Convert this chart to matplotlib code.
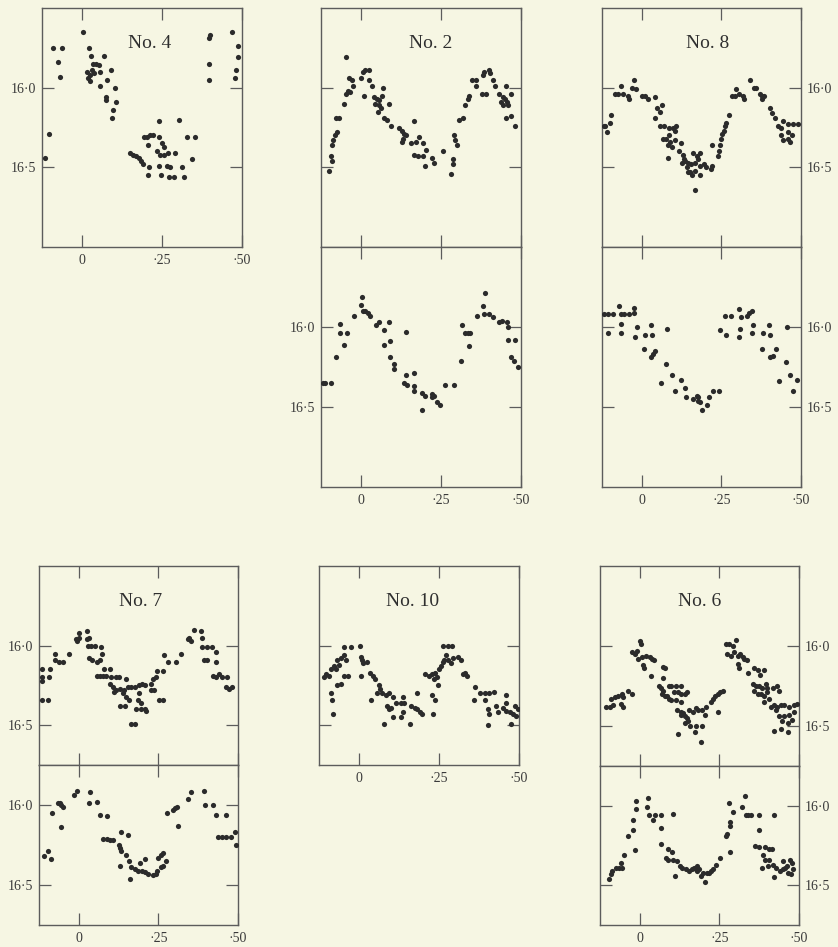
import matplotlib
matplotlib.use('Agg')
import matplotlib.pyplot as plt

# ---------------- data (phase, magnitude) ----------------
x_ticks = [0.0, 0.25, 0.5]
x_tick_labels = ['0', '·25', '·50']
y_ticks = [16.0, 16.5]
y_tick_labels = ['16·0', '16·5']

no4_phase = [-0.117, -0.102, -0.091, -0.063, -0.076, -0.070, 0.002, 0.021, 0.028, 0.070,
             0.034, 0.045, 0.053, 0.016, 0.025, 0.018, 0.032, 0.038, 0.026, 0.057,
             0.091, 0.078, 0.057, 0.102, 0.075, 0.075, 0.106, 0.096, 0.094,
             0.242, 0.302, 0.193, 0.203, 0.213, 0.222, 0.240, 0.328, 0.354, 0.206,
             0.250, 0.255, 0.150, 0.160, 0.170, 0.178, 0.185, 0.190, 0.235, 0.245,
             0.255, 0.270, 0.292, 0.344, 0.208, 0.240, 0.265, 0.276, 0.313, 0.205,
             0.248, 0.271, 0.289, 0.320,
             0.396, 0.401, 0.469, 0.396, 0.396, 0.486, 0.486, 0.482, 0.479]
no4_mag = [16.44, 16.29, 15.75, 15.75, 15.84, 15.93, 15.65, 15.75, 15.80, 15.80,
           15.85, 15.85, 15.86, 15.90, 15.92, 15.94, 15.89, 15.91, 15.96, 15.90,
           15.89, 15.95, 15.99, 16.00, 16.06, 16.08, 16.09, 16.14, 16.19,
           16.21, 16.20, 16.31, 16.31, 16.30, 16.30, 16.31, 16.31, 16.31, 16.36,
           16.35, 16.37, 16.41, 16.42, 16.43, 16.44, 16.46, 16.48, 16.40, 16.42,
           16.42, 16.41, 16.41, 16.45, 16.50, 16.49, 16.49, 16.50, 16.50, 16.55,
           16.55, 16.56, 16.56, 16.56,
           15.69, 15.67, 15.65, 15.85, 15.95, 15.74, 15.81, 15.89, 15.94]

no2a_phase = [-0.101, -0.094, -0.091, -0.091, -0.086, -0.080, -0.076, -0.078, -0.068, -0.052,
              -0.047, -0.042, -0.033, -0.024, -0.036, -0.028, -0.047, 0.000, 0.008, 0.005,
              0.014, 0.024, 0.024, 0.034, 0.068, 0.042, 0.049, 0.057, 0.045, 0.055,
              0.063, 0.052, 0.066, 0.086, 0.073, 0.080, 0.094, 0.120, 0.128, 0.135,
              0.141, 0.132, 0.167, 0.128, 0.156, 0.182, 0.193, 0.172, 0.165, 0.177,
              0.193, 0.203, 0.201, 0.222, 0.229, 0.255, 0.281, 0.286, 0.289, 0.292,
              0.295, 0.299, 0.307, 0.318, 0.326, 0.333, 0.339, 0.347, 0.359, 0.359,
              0.380, 0.385, 0.399, 0.403, 0.414, 0.420, 0.378, 0.391, 0.453, 0.432,
              0.443, 0.451, 0.455, 0.445, 0.458, 0.438, 0.469, 0.453, 0.469, 0.482]
no2a_mag = [16.52, 16.43, 16.46, 16.36, 16.33, 16.30, 16.28, 16.19, 16.19, 16.10,
            16.04, 16.02, 16.03, 15.99, 15.94, 15.95, 15.81, 15.94, 16.05, 15.90,
            15.89, 15.89, 15.95, 15.99, 16.00, 16.06, 16.07, 16.08, 16.10, 16.11,
            16.13, 16.15, 16.05, 16.10, 16.19, 16.20, 16.24, 16.25, 16.27, 16.29,
            16.30, 16.32, 16.21, 16.34, 16.35, 16.31, 16.35, 16.34, 16.42, 16.43,
            16.43, 16.39, 16.49, 16.44, 16.47, 16.40, 16.54, 16.48, 16.45, 16.30,
            16.33, 16.36, 16.20, 16.19, 16.11, 16.07, 16.05, 15.95, 15.95, 15.99,
            15.92, 15.90, 15.89, 15.91, 15.95, 15.99, 16.04, 16.04, 15.99, 16.04,
            16.06, 16.07, 16.09, 16.11, 16.11, 16.09, 16.04, 16.19, 16.18, 16.24]

no2b_phase = [-0.119, -0.112, -0.093, -0.078, -0.067, -0.065, -0.054, -0.043, -0.023, 0.003,
              0.000, 0.005, 0.013, 0.021, 0.029, 0.048, 0.055, 0.071, 0.086, 0.071,
              0.092, 0.092, 0.102, 0.104, 0.142, 0.140, 0.165, 0.135, 0.143, 0.165,
              0.167, 0.191, 0.191, 0.201, 0.222, 0.227, 0.222, 0.237, 0.247, 0.262,
              0.292, 0.311, 0.315, 0.324, 0.334, 0.342, 0.336, 0.361,
              0.380, 0.385, 0.388, 0.401, 0.414, 0.430, 0.441, 0.455, 0.458, 0.458,
              0.482, 0.469, 0.479, 0.490]
no2b_mag = [16.35, 16.35, 16.35, 16.19, 15.98, 16.04, 16.11, 16.04, 15.93, 15.81,
            15.86, 15.90, 15.90, 15.91, 15.93, 15.99, 15.97, 16.02, 15.97, 16.11,
            16.09, 16.19, 16.23, 16.26, 16.03, 16.30, 16.29, 16.35, 16.36, 16.37,
            16.40, 16.52, 16.41, 16.43, 16.42, 16.43, 16.44, 16.47, 16.49, 16.36,
            16.36, 16.21, 15.99, 16.04, 16.04, 16.04, 16.12, 15.93,
            15.87, 15.92, 15.79, 15.92, 15.94, 15.97, 15.96, 15.97, 16.00, 16.08,
            16.08, 16.19, 16.21, 16.25]

no8a_phase = [-0.120, -0.109, -0.115, -0.099, -0.097, -0.085, -0.075, -0.066, -0.059, -0.042,
              -0.039, -0.026, -0.018, -0.031, 0.000, 0.010, 0.021, 0.042, 0.049, 0.057,
              0.063, 0.042, 0.057, 0.070, 0.086, 0.099, 0.104, 0.107, 0.066, 0.076,
              0.086, 0.089, 0.083, 0.094, 0.104, 0.083, 0.122, 0.118, 0.130, 0.132,
              0.125, 0.135, 0.146, 0.156, 0.167, 0.177, 0.184, 0.161, 0.172, 0.141,
              0.151, 0.167, 0.182, 0.195, 0.146, 0.159, 0.167, 0.182, 0.203, 0.216,
              0.222, 0.222, 0.240, 0.243, 0.245, 0.250, 0.253, 0.257, 0.260, 0.266,
              0.274, 0.284, 0.292, 0.295, 0.305, 0.318, 0.321, 0.341, 0.351, 0.359,
              0.370, 0.378, 0.385, 0.378, 0.403, 0.409, 0.417, 0.427, 0.438, 0.445,
              0.458, 0.474, 0.438, 0.445, 0.458, 0.466, 0.458, 0.472, 0.492]
no8a_mag = [16.24, 16.28, 16.24, 16.22, 16.17, 16.04, 16.04, 15.99, 16.04, 16.05,
            16.07, 15.95, 16.01, 16.00, 16.05, 16.05, 16.07, 16.06, 16.13, 16.15,
            16.11, 16.19, 16.24, 16.24, 16.25, 16.25, 16.27, 16.24, 16.32, 16.32,
            16.30, 16.34, 16.36, 16.37, 16.33, 16.44, 16.35, 16.40, 16.42, 16.45,
            16.47, 16.46, 16.47, 16.48, 16.47, 16.45, 16.41, 16.41, 16.43, 16.50,
            16.53, 16.52, 16.49, 16.48, 16.53, 16.55, 16.64, 16.55, 16.50, 16.51,
            16.49, 16.36, 16.43, 16.40, 16.36, 16.32, 16.29, 16.27, 16.24, 16.22,
            16.17, 16.05, 16.05, 16.01, 16.04, 16.05, 16.07, 15.95, 16.00, 16.00,
            16.04, 16.05, 16.05, 16.07, 16.13, 16.16, 16.19, 16.24, 16.25, 16.21,
            16.23, 16.23, 16.30, 16.33, 16.32, 16.34, 16.28, 16.30, 16.23]

no8b_phase = [-0.118, -0.107, -0.092, -0.105, -0.071, -0.064, -0.057, -0.064, -0.064, -0.040,
              -0.026, -0.024, -0.022, -0.016, 0.009, 0.033, 0.030, 0.078, 0.007, 0.040,
              0.036, 0.030, 0.077, 0.060, 0.096, 0.122, 0.105, 0.136, 0.140, 0.162,
              0.173, 0.175, 0.178, 0.183, 0.190, 0.206, 0.211, 0.225, 0.243, 0.246,
              0.264, 0.260, 0.279, 0.305, 0.313, 0.309, 0.305, 0.330, 0.338, 0.345,
              0.350, 0.345, 0.382, 0.379, 0.400, 0.403, 0.420, 0.413, 0.404, 0.455,
              0.452, 0.432, 0.465, 0.476, 0.488]
no8b_mag = [15.92, 15.92, 15.92, 16.04, 15.87, 15.92, 15.92, 15.98, 16.04, 15.92,
            15.88, 15.91, 16.06, 16.00, 16.05, 16.05, 15.99, 16.01, 16.14, 16.15,
            16.17, 16.19, 16.23, 16.35, 16.30, 16.33, 16.40, 16.38, 16.44, 16.45,
            16.43, 16.44, 16.46, 16.47, 16.52, 16.49, 16.44, 16.40, 16.40, 16.02,
            16.05, 15.93, 15.93, 15.89, 15.94, 16.01, 16.06, 15.93, 15.91, 15.90,
            15.99, 16.04, 16.04, 16.14, 15.99, 16.05, 16.14, 16.18, 16.19, 16.00,
            16.22, 16.34, 16.30, 16.40, 16.33]

no7a_phase = [-0.117, -0.090, -0.117, -0.093, -0.117, -0.117, -0.096, -0.075, -0.075, -0.061,
              -0.051, -0.031, -0.009, 0.000, 0.001, -0.005, 0.026, 0.032, 0.026, 0.029,
              0.039, 0.050, 0.071, 0.074, 0.032, 0.043, 0.057, 0.066, 0.078, 0.097,
              0.057, 0.066, 0.076, 0.086, 0.102, 0.116, 0.126, 0.149, 0.097, 0.107,
              0.118, 0.130, 0.143, 0.153, 0.164, 0.112, 0.138, 0.149, 0.157, 0.128,
              0.144, 0.165, 0.178, 0.178, 0.188, 0.199, 0.209, 0.190, 0.185, 0.195,
              0.180, 0.195, 0.209, 0.211, 0.227, 0.237, 0.227, 0.234, 0.243, 0.253,
              0.264, 0.245, 0.266, 0.279, 0.305, 0.269, 0.321, 0.342, 0.347, 0.352,
              0.362, 0.383, 0.386, 0.388, 0.404, 0.419, 0.430, 0.394, 0.404, 0.430,
              0.420, 0.430, 0.441, 0.451, 0.466, 0.461, 0.472, 0.482]
no7a_mag = [16.15, 16.15, 16.20, 16.20, 16.22, 16.34, 16.34, 16.05, 16.09, 16.10,
            16.10, 16.05, 15.96, 15.95, 15.92, 15.97, 15.91, 15.95, 15.96, 16.00,
            16.00, 16.00, 16.01, 16.05, 16.08, 16.09, 16.10, 16.09, 16.15, 16.15,
            16.19, 16.19, 16.19, 16.19, 16.20, 16.20, 16.20, 16.21, 16.24, 16.26,
            16.28, 16.27, 16.28, 16.26, 16.26, 16.29, 16.30, 16.32, 16.34, 16.38,
            16.38, 16.49, 16.49, 16.26, 16.25, 16.24, 16.25, 16.30, 16.34, 16.36,
            16.40, 16.40, 16.40, 16.41, 16.28, 16.28, 16.24, 16.21, 16.20, 16.34,
            16.34, 16.16, 16.16, 16.10, 16.10, 16.06, 16.05, 15.96, 15.95, 15.97,
            15.90, 15.91, 15.95, 16.01, 16.01, 16.01, 16.04, 16.09, 16.09, 16.10,
            16.19, 16.20, 16.18, 16.20, 16.20, 16.26, 16.27, 16.26]

no7b_phase = [-0.110, -0.098, -0.087, -0.084, -0.066, -0.060, -0.056, -0.049, -0.056, -0.016,
              -0.005, 0.035, 0.032, 0.056, 0.066, 0.089, 0.077, 0.087, 0.098, 0.108,
              0.132, 0.156, 0.126, 0.129, 0.131, 0.147, 0.129, 0.158, 0.161, 0.165,
              0.176, 0.186, 0.197, 0.207, 0.218, 0.193, 0.208, 0.232, 0.242, 0.247,
              0.258, 0.263, 0.250, 0.258, 0.263, 0.274, 0.277, 0.295, 0.302, 0.308,
              0.310, 0.342, 0.353, 0.393, 0.397, 0.421, 0.432, 0.463, 0.437, 0.450,
              0.463, 0.477, 0.490, 0.493]
no7b_mag = [16.32, 16.29, 16.34, 16.05, 15.99, 15.99, 16.00, 16.01, 16.14, 15.94,
            15.91, 15.92, 15.99, 15.98, 16.06, 16.07, 16.21, 16.21, 16.22, 16.22,
            16.17, 16.19, 16.25, 16.27, 16.29, 16.31, 16.38, 16.35, 16.46, 16.39,
            16.40, 16.41, 16.41, 16.42, 16.43, 16.36, 16.34, 16.44, 16.43, 16.41,
            16.39, 16.38, 16.33, 16.31, 16.30, 16.35, 16.05, 16.03, 16.02, 16.01,
            16.13, 15.96, 15.92, 15.91, 16.00, 16.00, 16.06, 16.06, 16.20, 16.20,
            16.20, 16.20, 16.17, 16.25]

no10_phase = [-0.109, -0.095, -0.102, -0.089, -0.079, -0.073, -0.063, -0.068, -0.057, -0.048,
              -0.041, -0.046, -0.033, -0.048, -0.025, 0.004, -0.089, -0.084, -0.081, -0.068,
              -0.057, 0.005, 0.008, 0.013, 0.005, 0.024, 0.034, 0.045, 0.051, 0.061,
              0.067, 0.038, 0.056, 0.072, 0.083, 0.094, 0.105, 0.088, 0.094, 0.099,
              0.078, 0.115, 0.131, 0.142, 0.105, 0.131, 0.137, 0.158, 0.164, 0.175,
              0.180, 0.191, 0.196, 0.137, 0.180, 0.228, 0.236, 0.232, 0.247, 0.207,
              0.218, 0.228, 0.239, 0.250, 0.255, 0.261, 0.245, 0.234, 0.266, 0.261,
              0.277, 0.290, 0.272, 0.277, 0.288, 0.293, 0.309, 0.318, 0.325, 0.331,
              0.336, 0.363, 0.379, 0.395, 0.406, 0.422, 0.358, 0.395, 0.404, 0.406,
              0.428, 0.433, 0.404, 0.460, 0.460, 0.449, 0.460, 0.471, 0.482, 0.492,
              0.487, 0.498, 0.476]
no10_mag = [16.20, 16.19, 16.18, 16.15, 16.13, 16.15, 16.12, 16.09, 16.08, 16.06,
            16.09, 16.19, 16.19, 16.01, 16.01, 16.00, 16.30, 16.34, 16.43, 16.25,
            16.24, 16.07, 16.09, 16.11, 16.19, 16.10, 16.17, 16.19, 16.21, 16.25,
            16.27, 16.34, 16.30, 16.30, 16.31, 16.30, 16.32, 16.38, 16.40, 16.39,
            16.49, 16.36, 16.36, 16.36, 16.45, 16.45, 16.42, 16.49, 16.38, 16.39,
            16.40, 16.42, 16.43, 16.32, 16.30, 16.31, 16.34, 16.43, 16.25, 16.18,
            16.19, 16.18, 16.17, 16.15, 16.13, 16.10, 16.20, 16.21, 16.09, 16.00,
            16.00, 16.00, 16.06, 16.09, 16.11, 16.08, 16.07, 16.09, 16.18, 16.17,
            16.19, 16.26, 16.30, 16.30, 16.30, 16.29, 16.34, 16.34, 16.40, 16.43,
            16.38, 16.42, 16.50, 16.31, 16.36, 16.39, 16.41, 16.42, 16.43, 16.44,
            16.38, 16.40, 16.49]

no6a_phase = [-0.107, -0.094, -0.083, -0.091, -0.078, -0.068, -0.057, -0.052, -0.059, -0.052,
              -0.036, -0.026, -0.026, -0.016, -0.010, 0.000, 0.003, -0.007, 0.007, 0.010,
              0.014, 0.021, 0.031, 0.039, 0.045, 0.036, 0.073, 0.078, 0.059, 0.066,
              0.073, 0.070, 0.078, 0.086, 0.091, 0.099, 0.091, 0.099, 0.115, 0.128,
              0.073, 0.107, 0.120, 0.130, 0.141, 0.149, 0.115, 0.128, 0.118, 0.128,
              0.135, 0.141, 0.149, 0.130, 0.153, 0.167, 0.177, 0.184, 0.195, 0.208,
              0.205, 0.159, 0.177, 0.195, 0.120, 0.172, 0.191, 0.151, 0.141, 0.224,
              0.229, 0.236, 0.245, 0.253, 0.260, 0.245, 0.271, 0.281, 0.292, 0.302,
              0.274, 0.286, 0.297, 0.307, 0.315, 0.323, 0.328, 0.336, 0.307, 0.313,
              0.339, 0.359, 0.370, 0.389, 0.378, 0.354, 0.365, 0.375, 0.385, 0.396,
              0.401, 0.359, 0.370, 0.380, 0.391, 0.401, 0.417, 0.432, 0.438, 0.389,
              0.406, 0.422, 0.411, 0.432, 0.443, 0.453, 0.469, 0.484, 0.495, 0.427,
              0.438, 0.453, 0.469, 0.484, 0.448, 0.464, 0.479, 0.422, 0.443, 0.464]
no6a_mag = [16.38, 16.38, 16.37, 16.33, 16.32, 16.31, 16.30, 16.32, 16.36, 16.38,
            16.28, 16.30, 16.04, 16.05, 16.03, 15.97, 15.99, 16.08, 16.07, 16.12,
            16.14, 16.06, 16.07, 16.08, 16.09, 16.19, 16.13, 16.14, 16.25, 16.26,
            16.28, 16.30, 16.31, 16.31, 16.33, 16.34, 16.25, 16.25, 16.25, 16.25,
            16.20, 16.29, 16.29, 16.30, 16.30, 16.29, 16.34, 16.35, 16.40, 16.41,
            16.42, 16.44, 16.45, 16.43, 16.40, 16.41, 16.39, 16.40, 16.40, 16.38,
            16.43, 16.50, 16.50, 16.50, 16.55, 16.54, 16.60, 16.47, 16.48, 16.35,
            16.33, 16.31, 16.30, 16.29, 16.28, 16.41, 15.99, 15.99, 16.00, 15.96,
            16.05, 16.06, 16.04, 16.06, 16.05, 16.07, 16.08, 16.09, 16.11, 16.14,
            16.17, 16.14, 16.15, 16.15, 16.18, 16.24, 16.25, 16.25, 16.26, 16.24,
            16.26, 16.28, 16.30, 16.30, 16.31, 16.29, 16.26, 16.25, 16.28, 16.35,
            16.33, 16.37, 16.38, 16.38, 16.37, 16.37, 16.38, 16.37, 16.36, 16.40,
            16.44, 16.44, 16.43, 16.41, 16.47, 16.48, 16.46, 16.53, 16.52, 16.54]

no6b_phase = [-0.097, -0.092, -0.086, -0.076, -0.065, -0.057, -0.060, -0.049, -0.036, -0.021,
              -0.021, -0.015, -0.013, -0.013, 0.024, 0.027, 0.029, 0.042, 0.048, 0.066,
              0.103, 0.068, 0.066, 0.087, 0.100, 0.082, 0.090, 0.103, 0.118, 0.111,
              0.126, 0.134, 0.145, 0.153, 0.164, 0.171, 0.176, 0.181, 0.187, 0.181,
              0.192, 0.206, 0.197, 0.210, 0.218, 0.223, 0.231, 0.239, 0.252, 0.271,
              0.273, 0.284, 0.279, 0.292, 0.282, 0.282, 0.321, 0.331, 0.332, 0.339,
              0.350, 0.373, 0.373, 0.420, 0.363, 0.374, 0.392, 0.405, 0.387, 0.392,
              0.407, 0.416, 0.385, 0.402, 0.418, 0.429, 0.439, 0.450, 0.455, 0.465,
              0.476, 0.481, 0.462, 0.423, 0.450, 0.471, 0.479]
no6b_mag = [16.46, 16.43, 16.41, 16.39, 16.39, 16.39, 16.36, 16.31, 16.19, 16.15,
            16.09, 16.28, 16.02, 15.97, 16.01, 15.95, 16.06, 16.09, 16.06, 16.06,
            16.05, 16.14, 16.24, 16.27, 16.29, 16.33, 16.34, 16.34, 16.35, 16.44,
            16.38, 16.39, 16.40, 16.41, 16.40, 16.39, 16.40, 16.41, 16.40, 16.38,
            16.44, 16.48, 16.42, 16.42, 16.42, 16.41, 16.40, 16.37, 16.33, 16.19,
            16.18, 16.29, 15.98, 16.04, 16.10, 16.13, 16.01, 15.94, 16.06, 16.06,
            16.06, 16.06, 16.15, 16.06, 16.25, 16.26, 16.26, 16.27, 16.31, 16.34,
            16.34, 16.27, 16.39, 16.38, 16.37, 16.39, 16.41, 16.40, 16.39, 16.42,
            16.43, 16.40, 16.38, 16.45, 16.35, 16.34, 16.36]

# ---------------- style ----------------
W, H = 838, 947
BG = '#f6f6e3'
INK = '#2b2b2b'
LINE = '#5c5c5c'
plt.rcParams['font.family'] = ['Liberation Serif', 'DejaVu Serif']

fig = plt.figure(figsize=(W / 100, H / 100), dpi=100, facecolor=BG)


def panel(box, ylim, phase, mag, xlab=False, ylab=None, title=None, tx=0.5):
    x0, y0, x1, y1 = box
    ax = fig.add_axes([x0 / W, 1 - y1 / H, (x1 - x0) / W, (y1 - y0) / H])
    ax.set_facecolor(BG)
    ax.scatter(phase, mag, s=14, c=INK, linewidths=0, zorder=3)
    ax.set_xlim(-0.125, 0.5)
    ax.set_ylim(*ylim)
    ax.set_xticks(x_ticks)
    ax.set_xticklabels(x_tick_labels)
    ax.set_yticks(y_ticks)
    ax.set_yticklabels(y_tick_labels)
    for sp in ax.spines.values():
        sp.set_color(LINE)
        sp.set_linewidth(1.0)
    ax.tick_params(axis='x', which='both', direction='in', top=True, bottom=True,
                   labelbottom=xlab, labeltop=False, length=8.5, width=0.9,
                   color=LINE, labelcolor='#3a3a3a', labelsize=10, pad=5)
    ax.tick_params(axis='y', which='both', direction='in', left=True, right=True,
                   labelleft=(ylab == 'left'), labelright=(ylab == 'right'),
                   length=8.5, width=0.9, color=LINE, labelcolor='#3a3a3a',
                   labelsize=10, pad=4)
    if title:
        hpx = y1 - y0
        ax.text(tx, 1 - 35 / hpx, title, transform=ax.transAxes, ha='center',
                va='center', fontsize=14, color='#2f2f2f')
    return ax


# top row
panel((42, 8, 242, 247), (17.0, 15.5), no4_phase, no4_mag, xlab=True, ylab='left',
      title='No. 4', tx=0.54)
panel((321, 8, 521, 247), (17.0, 15.5), no2a_phase, no2a_mag, title='No. 2', tx=0.55)
panel((321, 247, 521, 487), (17.0, 15.5), no2b_phase, no2b_mag, xlab=True, ylab='left')
panel((602, 8, 801, 247), (17.0, 15.5), no8a_phase, no8a_mag, ylab='right',
      title='No. 8', tx=0.53)
panel((602, 247, 801, 487), (17.0, 15.5), no8b_phase, no8b_mag, xlab=True, ylab='right')

# bottom row
panel((39, 566, 238, 765), (16.75, 15.5), no7a_phase, no7a_mag, ylab='left',
      title='No. 7', tx=0.51)
panel((39, 765, 238, 925), (16.75, 15.75), no7b_phase, no7b_mag, xlab=True, ylab='left')
panel((319, 566, 519, 765), (16.75, 15.5), no10_phase, no10_mag, xlab=True,
      title='No. 10', tx=0.47)
panel((600, 566, 799, 766), (16.75, 15.5), no6a_phase, no6a_mag, ylab='right',
      title='No. 6', tx=0.50)
panel((600, 766, 799, 925), (16.75, 15.75), no6b_phase, no6b_mag, xlab=True, ylab='right')

fig.savefig('out.png', dpi=100, facecolor=BG)
